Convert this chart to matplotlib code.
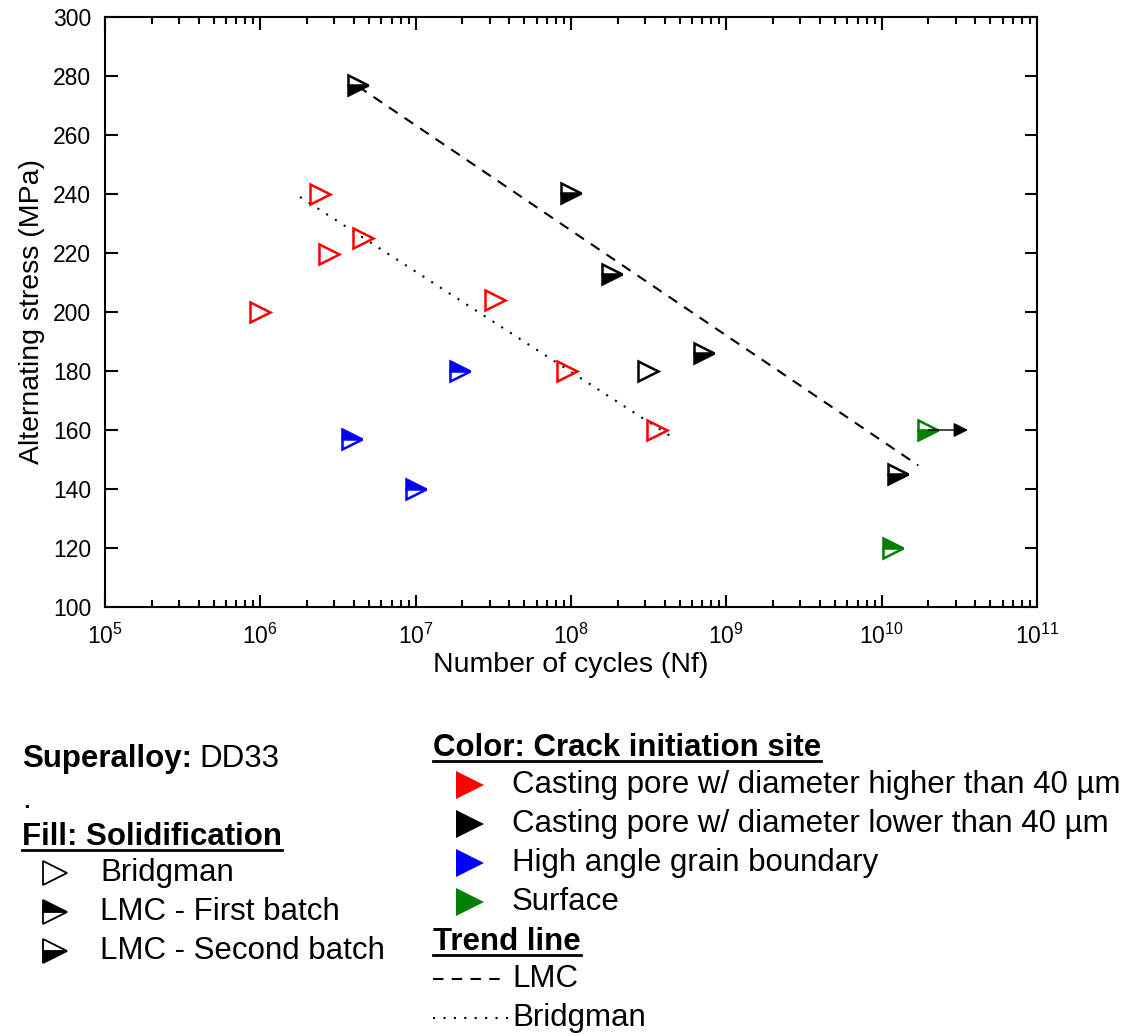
import matplotlib
matplotlib.use("Agg")
import matplotlib.pyplot as plt

plt.rcParams['font.family'] = ['Liberation Sans', 'DejaVu Sans']
plt.rcParams['mathtext.fontset'] = 'custom'
plt.rcParams['mathtext.rm'] = 'Liberation Sans'
plt.rcParams['mathtext.it'] = 'Liberation Sans:italic'
plt.rcParams['mathtext.bf'] = 'Liberation Sans:bold'

# data: one entry per specimen
cycles = [1.0e6, 2.42e6, 2.77e6, 4.6e6, 3.24e7, 9.4e7, 3.6e8,
          4.25e6, 1.0e8, 1.84e8, 3.15e8, 7.2e8, 1.27e10,
          3.9e6, 1.0e7, 1.93e7,
          2.0e10, 1.18e10]
stress = [200, 240, 219.5, 225, 204, 180, 160,
          277, 240.5, 213, 180, 186, 145,
          157, 140, 180,
          160, 120]
site = ['red'] * 7 + ['black'] * 6 + ['blue'] * 3 + ['green'] * 2
fill = ['none'] * 7 + ['bottom', 'bottom', 'bottom', 'none', 'bottom', 'bottom'] + \
       ['top', 'top', 'top'] + ['bottom', 'top']

# run-out arrow
runout_from = (2.0e10, 160)
runout_to = (3.6e10, 160)

# trend lines (end points)
lmc_x = [4.25e6, 1.72e10]
lmc_y = [276.5, 148]
bridg_x = [1.8e6, 4.5e8]
bridg_y = [239, 157.5]

site_names = ['Casting pore w/ diameter higher than 40 µm',
              'Casting pore w/ diameter lower than 40 µm',
              'High angle grain boundary', 'Surface']
site_colors = ['red', 'black', 'blue', 'green']
fill_names = ['Bridgman', 'LMC - First batch', 'LMC - Second batch']
fill_styles = ['none', 'top', 'bottom']

W, H = 1129, 1036
fig = plt.figure(figsize=(W / 100, H / 100), dpi=100)
ax = fig.add_axes([105 / W, 1 - 607 / H, (1037 - 105) / W, (607 - 17) / H])

ax.plot(lmc_x, lmc_y, color='black', ls=(0, (5, 4)), lw=1.5)
ax.plot(bridg_x, bridg_y, color='black', ls=(0, (1, 4)), lw=1.5)
ax.annotate('', xy=runout_to, xytext=runout_from,
            arrowprops=dict(arrowstyle='-|>', color='black', lw=1,
                            mutation_scale=22, shrinkA=0, shrinkB=0))

for x, y, c, f in zip(cycles, stress, site, fill):
    if f == 'none':
        ax.plot(x, y, marker='>', ms=15, mew=1.8, mec=c, mfc='none', ls='none')
    else:
        ax.plot(x, y, marker='>', ms=15, mew=1.8, mec=c, mfc=c,
                mfcalt='white', fillstyle=f, ls='none')

ax.set_xscale('log')
ax.set_xlim(1e5, 1e11)
ax.set_ylim(100, 300)
ax.set_yticks(range(100, 301, 20))
ax.tick_params(which='both', direction='in', top=True, right=True,
               labelsize=16.5, width=1.5)
ax.tick_params(which='major', length=9)
ax.tick_params(which='minor', length=5)
ax.tick_params(axis='x', pad=12)
ax.tick_params(axis='y', pad=10)
for s in ax.spines.values():
    s.set_linewidth(1.5)
ax.set_xlabel('Number of cycles (Nf)', fontsize=20.5, labelpad=2)
ax.set_ylabel('Alternating stress (MPa)', fontsize=20.5, labelpad=6)

# legend block drawn in pixel coordinates
lg = fig.add_axes([0, 0, 1, 1])
lg.set_xlim(0, W)
lg.set_ylim(H, 0)
lg.axis('off')
fs = 22.5

fig.canvas.draw()
r = fig.canvas.get_renderer()


def header(x, y, s):
    t = lg.text(x, y, s, fontsize=fs, fontweight='bold', va='baseline')
    bb = t.get_window_extent(r)
    lg.plot([x, x + bb.width], [y + 5, y + 5], color='black', lw=2)


t = lg.text(22, 767, 'Superalloy:', fontsize=fs, fontweight='bold', va='baseline')
bb = t.get_window_extent(r)
lg.text(22 + bb.width + 7, 767, 'DD33', fontsize=fs, va='baseline')
lg.text(22, 808, '.', fontsize=fs, va='baseline')
header(22, 845, 'Fill: Solidification')
for i, (name, f) in enumerate(zip(fill_names, fill_styles)):
    y = 873 + 39 * i
    if f == 'none':
        lg.plot(55, y, marker='>', ms=17, mew=1.3, mec='black', mfc='none')
    else:
        lg.plot(55, y, marker='>', ms=17, mew=1.3, mec='black', mfc='black',
                mfcalt='white', fillstyle=f)
    lg.text(100, y, name, fontsize=fs, va='center')

header(433, 756, 'Color: Crack initiation site')
for i, (name, c) in enumerate(zip(site_names, site_colors)):
    y = 785 + 39 * i
    lg.plot(470, y, marker='>', ms=20, mew=0, color=c)
    lg.text(512, y, name, fontsize=fs, va='center')

header(433, 950, 'Trend line')
lg.plot([433, 508], [979, 979], color='black', ls=(0, (5, 4)), lw=1.5)
lg.text(512, 979, 'LMC', fontsize=fs, va='center')
lg.plot([433, 508], [1018, 1018], color='black', ls=(0, (1, 4)), lw=1.5)
lg.text(512, 1018, 'Bridgman', fontsize=fs, va='center')

fig.savefig('out.png', dpi=100)
